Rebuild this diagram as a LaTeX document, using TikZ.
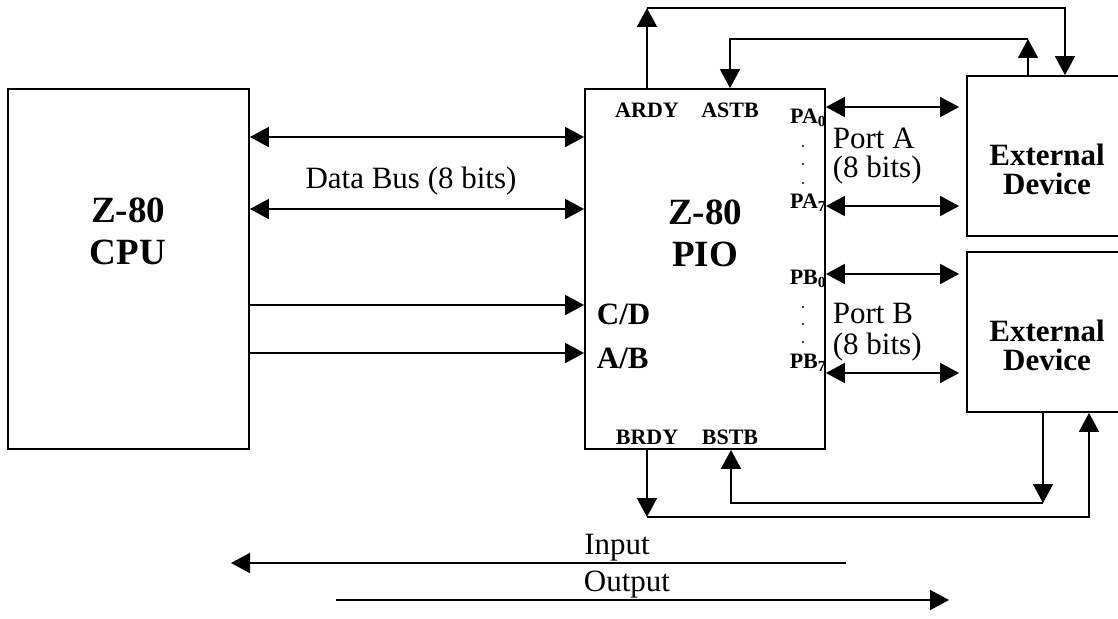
\documentclass[tikz,border=0pt]{standalone}
\usepackage{fontspec}
\setmainfont{Liberation Serif}
\usetikzlibrary{arrows.meta,calc}
\begin{document}
\begin{tikzpicture}[x=1pt,y=-1pt,
  line width=1.8pt,
  box/.style={draw, line width=1.8pt, rectangle, inner sep=0pt},
  tip/.style={-{Triangle[length=19pt,width=20pt]}},
  both/.style={{Triangle[length=19pt,width=20pt]}-{Triangle[length=19pt,width=20pt]}},
  big/.style={font=\fontsize{37}{42}\selectfont\bfseries, align=center, inner sep=0pt},
  ext/.style={font=\fontsize{31}{29}\selectfont\bfseries, align=center, inner sep=0pt},
  reg/.style={font=\fontsize{31}{31}\selectfont, inner sep=0pt},
  sig/.style={font=\fontsize{22}{22}\selectfont\bfseries, inner sep=0pt},
  ctl/.style={font=\fontsize{31}{31}\selectfont\bfseries, inner sep=0pt, anchor=west},
  dotn/.style={circle, fill, inner sep=0pt, minimum size=2.2pt}
]
\useasboundingbox (0,0) rectangle (1118,618);
\clip (0,0) rectangle (1118,618);

% boxes
\node[box, minimum width=241pt, minimum height=360pt] (cpu) at (128.5,269) {};
\node[box, minimum width=240pt, minimum height=360pt] (pio) at (705,269) {};
\node[box, minimum width=160pt, minimum height=160pt] (extA) at (1047,156) {};
\node[box, minimum width=160pt, minimum height=160pt] (extB) at (1047,332) {};

% titles
\node[big] (cputxt) at (128,231) {Z-80\\CPU};
\node[big] (piotxt) at (705,233) {Z-80\\PIO};
\node[ext] (extAtxt) at (1047,169) {External\\Device};
\node[ext] (extBtxt) at (1047,345) {External\\Device};

% CPU <-> PIO
\draw[both] (cpu.east |- 0,137) -- (pio.west |- 0,137);
\draw[both] (cpu.east |- 0,209) -- (pio.west |- 0,209);
\node[reg] (dbus) at (411,181) {Data Bus (8 bits)};
\draw[tip] (cpu.east |- 0,305) -- (pio.west |- 0,305);
\draw[tip] (cpu.east |- 0,353) -- (pio.west |- 0,353);
\node[ctl] (cd) at (596,314) {C/D};
\node[ctl] (ab) at (596,358) {A/B};

% port arrows
\draw[both, shorten >=7pt] (pio.east |- 0,107) -- (extA.west |- 0,107);
\draw[both, shorten >=7pt] (pio.east |- 0,206) -- (extA.west |- 0,206);
\draw[both, shorten >=7pt] (pio.east |- 0,274) -- (extB.west |- 0,274);
\draw[both, shorten >=7pt] (pio.east |- 0,373) -- (extB.west |- 0,373);

\node[sig, anchor=east] (pa0) at (827,118) {PA\textsubscript{0}};
\node[sig, anchor=east] (pa7) at (827,203) {PA\textsubscript{7}};
\node[sig, anchor=east] (pb0) at (827,279) {PB\textsubscript{0}};
\node[sig, anchor=east] (pb7) at (827,363) {PB\textsubscript{7}};
\node[dotn] (da1) at (803,146) {};
\node[dotn] (da2) at (803,164) {};
\node[dotn] (da3) at (803,183) {};
\node[dotn] (db1) at (803,307) {};
\node[dotn] (db2) at (803,324) {};
\node[dotn] (db3) at (803,342) {};

\node[reg, anchor=west] (porta) at (832,138) {Port A};
\node[reg, anchor=west] (bitsa) at (832,170) {(8 bits)};
\node[reg, anchor=west] (portb) at (832,313) {Port B};
\node[reg, anchor=west] (bitsb) at (832,347) {(8 bits)};

% handshake labels
\node[sig] (ardy) at (647,110) {ARDY};
\node[sig] (astb) at (730,110) {ASTB};
\node[sig] (brdy) at (647,437) {BRDY};
\node[sig] (bstb) at (730,437) {BSTB};

% top handshake loops
\coordinate (t1) at (647,8);
\coordinate (t2) at (1065,8);
\coordinate (t3) at (1028,39);
\coordinate (t4) at (730,39);
\draw[tip] (647,0 |- pio.north) -- (t1);
\draw[tip] (t1) -- (t2) -- (1065,0 |- extA.north);
\draw[tip] (1028,0 |- extA.north) -- (t3);
\draw[tip] (t3) -- (t4) -- (730,0 |- pio.north);

% bottom handshake loops
\coordinate (b1) at (647,517);
\coordinate (b2) at (1089,517);
\coordinate (b3) at (1043,503);
\coordinate (b4) at (731,503);
\draw[tip] (647,0 |- pio.south) -- (b1);
\draw[tip] (b1) -- (b2) -- (1089,0 |- extB.south);
\draw[tip] (1043,0 |- extB.south) -- (b3);
\draw[tip] (b3) -- (b4) -- (731,0 |- pio.south);

% direction legend
\coordinate (in1) at (846,563);
\coordinate (in2) at (231,563);
\coordinate (out1) at (336,600);
\coordinate (out2) at (949,600);
\draw[tip] (in1) -- (in2);
\draw[tip] (out1) -- (out2);
\node[reg] (intxt) at (617,548) {Input};
\node[reg] (outtxt) at (627,585) {Output};
\end{tikzpicture}
\end{document}
